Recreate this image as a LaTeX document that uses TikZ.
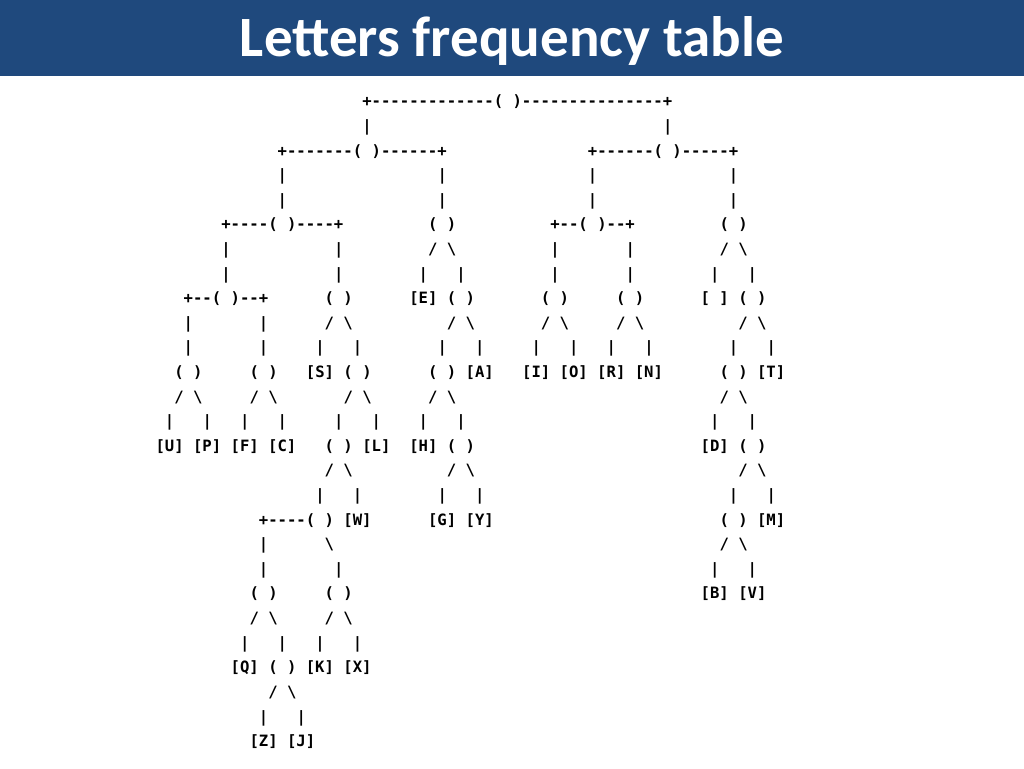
\documentclass[tikz,border=0pt]{standalone}
\usepackage{fontspec}
\setmainfont{Carlito}
\setmonofont{DejaVu Sans Mono}
\definecolor{band}{RGB}{31,73,125}
\newcommand\bs{\textbackslash}
\newcommand\Ln[3]{\node[art] at ({155.3+#1*9.4},{661-(#2-1)*24.6}) {#3};}
\newcommand\Sl[2]{\Ln{#1}{#2}{/ \bs}}
\newcommand\Vb[2]{\Ln{#1}{#2}{|}}
\begin{document}
\begin{tikzpicture}[x=1pt,y=1pt,
  art/.style={anchor=base west,inner sep=0pt,font=\ttfamily\bfseries\fontsize{15.6}{15.6}\selectfont}]
\useasboundingbox (0,0) rectangle (1024,768);
\fill[band] (0,692) rectangle (1024,768);
\node[text=white,font=\bfseries\fontsize{57}{57}\selectfont] (title) at (512,727) {Letters frequency table};
\Ln{22}{1}{+-------------( )---------------+}
\Vb{22}{2}\Vb{54}{2}
\Ln{13}{3}{+-------( )------+}\Ln{46}{3}{+------( )-----+}
\foreach \c in {13,30,46,61}{\Vb{\c}{4}\Vb{\c}{5}}
\Ln{7}{6}{+----( )----+}\Ln{29}{6}{( )}\Ln{42}{6}{+--( )--+}\Ln{60}{6}{( )}
\Vb{7}{7}\Vb{19}{7}\Sl{29}{7}\Vb{42}{7}\Vb{50}{7}\Sl{60}{7}
\foreach \c in {7,19,28,32,42,50,59,63}{\Vb{\c}{8}}
\Ln{3}{9}{+--( )--+}\Ln{18}{9}{( )}\Ln{27}{9}{[E] ( )}\Ln{41}{9}{( )}\Ln{49}{9}{( )}\Ln{58}{9}{[ ] ( )}
\Vb{3}{10}\Vb{11}{10}\foreach \c in {18,31,41,49,62}{\Sl{\c}{10}}
\foreach \c in {3,11,17,21,30,34,40,44,48,52,61,65}{\Vb{\c}{11}}
\Ln{2}{12}{( )}\Ln{10}{12}{( )}\Ln{16}{12}{[S] ( )}\Ln{29}{12}{( ) [A]}\Ln{39}{12}{[I] [O] [R] [N]}\Ln{60}{12}{( ) [T]}
\foreach \c in {2,10,20,29,60}{\Sl{\c}{13}}
\foreach \c in {1,5,9,13,19,23,28,32,59,63}{\Vb{\c}{14}}
\Ln{0}{15}{[U] [P] [F] [C]}\Ln{18}{15}{( ) [L]}\Ln{27}{15}{[H] ( )}\Ln{58}{15}{[D] ( )}
\foreach \c in {18,31,62}{\Sl{\c}{16}}
\foreach \c in {17,21,30,34,61,65}{\Vb{\c}{17}}
\Ln{11}{18}{+----( ) [W]}\Ln{29}{18}{[G] [Y]}\Ln{60}{18}{( ) [M]}
\Vb{11}{19}\Ln{18}{19}{\bs}\Sl{60}{19}
\foreach \c in {11,19,59,63}{\Vb{\c}{20}}
\Ln{10}{21}{( )}\Ln{18}{21}{( )}\Ln{58}{21}{[B] [V]}
\Sl{10}{22}\Sl{18}{22}
\foreach \c in {9,13,17,21}{\Vb{\c}{23}}
\Ln{8}{24}{[Q] ( ) [K] [X]}
\Sl{12}{25}
\Vb{11}{26}\Vb{15}{26}
\Ln{10}{27}{[Z] [J]}
\end{tikzpicture}
\end{document}
